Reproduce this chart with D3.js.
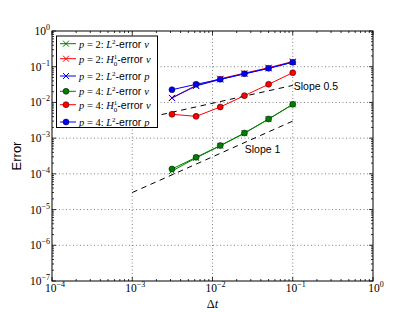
<!DOCTYPE html>
<html>
<head>
<meta charset="utf-8">
<script src="https://cdn.jsdelivr.net/npm/d3@7"></script>
<style>
body { margin: 0; background: #fff; }
.sans { font-family: "Liberation Sans", Arial, sans-serif; }
.serif { font-family: "Liberation Serif", "DejaVu Serif", serif; }
</style>
</head>
<body>
<svg id="chart" width="415" height="312"></svg>
<script>
// time steps
var dt = [0.1, 0.05, 0.025, 0.0125, 0.00625, 0.003125];
// errors, p = 2 (x markers)
var p2L2v = [8.8e-3, 3.4e-3, 1.37e-3, 6.1e-4, 2.8e-4, 1.2e-4];
var p2H1v = [0.14, 0.094, 0.066, 0.046, 0.030, 0.0135];
var p2L2p = [0.135, 0.09, 0.063, 0.044, 0.029, 0.0133];
// errors, p = 4 (circles)
var p4L2v = [8.85e-3, 3.44e-3, 1.39e-3, 6.2e-4, 2.9e-4, 1.37e-4];
var p4H1v = [0.068, 0.0321, 0.0155, 7.45e-3, 4.07e-3, 4.65e-3];
var p4L2p = [0.133, 0.0901, 0.0638, 0.0444, 0.0321, 0.0227];
// reference slopes
var slopeX = [1e-3, 1e-1];
var slopeHalfY = [3.0e-3, 3.0e-2];
var slopeOneY = [3.0e-5, 3.0e-3];
// ticks
var xTickExp = [-4, -3, -2, -1, 0];
var yTickExp = [0, -1, -2, -3, -4, -5, -6, -7];

var series = [
    {name: ['p', '= 2:', 'L', '2', '', 'v'], vals: p2L2v, color: '#008000', marker: 'x'},
    {name: ['p', '= 2:', 'H', '1', '0', 'v'], vals: p2H1v, color: '#ff0000', marker: 'x'},
    {name: ['p', '= 2:', 'L', '2', '', 'p'], vals: p2L2p, color: '#0000ff', marker: 'x'},
    {name: ['p', '= 4:', 'L', '2', '', 'v'], vals: p4L2v, color: '#008000', marker: 'o'},
    {name: ['p', '= 4:', 'H', '1', '0', 'v'], vals: p4H1v, color: '#ff0000', marker: 'o'},
    {name: ['p', '= 4:', 'L', '2', '', 'p'], vals: p4L2p, color: '#0000ff', marker: 'o'}
];

var margin = {left: 52, right: 42, top: 31, bottom: 31};
var W = 415, H = 312;
var svg = d3.select('#chart');
var x = d3.scaleLog().domain([1e-4, 1]).range([margin.left, W - margin.right]);
var y = d3.scaleLog().domain([1e-7, 1]).range([H - margin.bottom, margin.top]);
var x0 = x.range()[0], x1 = x.range()[1], y0 = y.range()[0], y1 = y.range()[1];

// grid
var grid = svg.append('g');
xTickExp.slice(1, -1).forEach(function (e) {
    grid.append('line').attr('x1', x(Math.pow(10, e))).attr('x2', x(Math.pow(10, e)))
        .attr('y1', y0).attr('y2', y1);
});
yTickExp.slice(1, -1).forEach(function (e) {
    grid.append('line').attr('y1', y(Math.pow(10, e))).attr('y2', y(Math.pow(10, e)))
        .attr('x1', x0).attr('x2', x1);
});
grid.selectAll('line').attr('stroke', '#000').attr('stroke-width', 0.5)
    .attr('stroke-dasharray', '1,2.5');

// ticks on all four sides, pointing inward
var minor = [2, 3, 4, 5, 6, 7, 8, 9];
var ticks = svg.append('g').attr('stroke', '#000').attr('stroke-width', 0.8);
xTickExp.forEach(function (e, i) {
    var xs = [{v: Math.pow(10, e), len: 4}];
    if (i < xTickExp.length - 1) minor.forEach(function (m) { xs.push({v: m * Math.pow(10, e), len: 2}); });
    xs.forEach(function (t) {
        ticks.append('line').attr('x1', x(t.v)).attr('x2', x(t.v)).attr('y1', y0).attr('y2', y0 - t.len);
        ticks.append('line').attr('x1', x(t.v)).attr('x2', x(t.v)).attr('y1', y1).attr('y2', y1 + t.len);
    });
});
yTickExp.forEach(function (e, i) {
    var ys = [{v: Math.pow(10, e), len: 4}];
    if (i > 0) minor.forEach(function (m) { ys.push({v: m * Math.pow(10, e), len: 2}); });
    ys.forEach(function (t) {
        ticks.append('line').attr('y1', y(t.v)).attr('y2', y(t.v)).attr('x1', x0).attr('x2', x0 + t.len);
        ticks.append('line').attr('y1', y(t.v)).attr('y2', y(t.v)).attr('x1', x1).attr('x2', x1 - t.len);
    });
});

// tick labels
function powLabel(sel, e) {
    sel.append('tspan').text('10');
    sel.append('tspan').attr('dy', -5).attr('font-size', 8).text(e === 0 ? '0' : '\u2212' + Math.abs(e));
}
xTickExp.forEach(function (e) {
    var t = svg.append('text').attr('class', 'serif').attr('font-size', 11.5)
        .attr('x', x(Math.pow(10, e)) + 3).attr('y', y0 + 10.5).attr('text-anchor', 'middle').attr('fill', '#000');
    powLabel(t, e);
});
yTickExp.forEach(function (e) {
    var t = svg.append('text').attr('class', 'serif').attr('font-size', 11.5)
        .attr('x', x0 - 2).attr('y', y(Math.pow(10, e)) + 4).attr('text-anchor', 'end').attr('fill', '#000');
    powLabel(t, e);
});

// axis labels
svg.append('text').attr('class', 'sans').attr('font-size', 13)
    .attr('transform', 'translate(21,' + ((y0 + y1) / 2) + ') rotate(-90)')
    .attr('text-anchor', 'middle').text('Error');
var xl = svg.append('text').attr('class', 'serif').attr('font-size', 12.5)
    .attr('x', (x0 + x1) / 2).attr('y', 307.5).attr('text-anchor', 'middle');
xl.append('tspan').text('\u0394');
xl.append('tspan').attr('font-style', 'italic').text('t');

// reference slope lines
var line = d3.line().x(function (d) { return x(d[0]); }).y(function (d) { return y(d[1]); });
[slopeHalfY, slopeOneY].forEach(function (ys) {
    svg.append('path').attr('d', line(slopeX.map(function (v, i) { return [v, ys[i]]; })))
        .attr('fill', 'none').attr('stroke', '#000').attr('stroke-width', 1)
        .attr('stroke-dasharray', '5.5,4.5');
});
svg.append('text').attr('class', 'sans').attr('font-size', 10.5)
    .attr('x', x(slopeX[1]) + 1).attr('y', y(slopeHalfY[1]) + 5).text('Slope 0.5');
svg.append('text').attr('class', 'sans').attr('font-size', 10.5)
    .attr('x', x(slopeX[1]) - 48).attr('y', y(slopeOneY[1]) + 32).text('Slope 1');

// data series
function drawMarker(g, m, color, cx, cy) {
    if (m === 'o') {
        g.append('circle').attr('cx', cx).attr('cy', cy).attr('r', 3)
            .attr('fill', color).attr('stroke', '#000').attr('stroke-width', 0.5);
    } else {
        g.append('path').attr('d', 'M' + (cx - 3) + ',' + (cy - 3) + 'L' + (cx + 3) + ',' + (cy + 3) +
            'M' + (cx - 3) + ',' + (cy + 3) + 'L' + (cx + 3) + ',' + (cy - 3))
            .attr('stroke', color).attr('stroke-width', 1).attr('fill', 'none');
    }
}
series.forEach(function (s) {
    var g = svg.append('g');
    var pts = dt.map(function (d, i) { return [d, s.vals[i]]; });
    g.append('path').attr('d', line(pts)).attr('fill', 'none')
        .attr('stroke', s.color).attr('stroke-width', 1);
    pts.forEach(function (p) { drawMarker(g, s.marker, s.color, x(p[0]), y(p[1])); });
});

// legend
var legendRowY = [43.7, 58.7, 76, 91.3, 104.7, 122];
var lg = svg.append('g');
lg.append('rect').attr('x', 56.5).attr('y', 36).attr('width', 101).attr('height', 91.5)
    .attr('fill', '#fff').attr('stroke', '#000').attr('stroke-width', 1);
series.forEach(function (s, i) {
    var ry = legendRowY[i];
    lg.append('line').attr('x1', 60).attr('x2', 76).attr('y1', ry).attr('y2', ry)
        .attr('stroke', s.color).attr('stroke-width', 1);
    drawMarker(lg, s.marker, s.color, 66, ry);
    var t = lg.append('text').attr('x', 79).attr('y', ry + 4).attr('font-size', 10.5).attr('fill', '#000');
    t.append('tspan').attr('class', 'serif').attr('font-style', 'italic').text(s.name[0]);
    t.append('tspan').attr('class', 'serif').text(' ' + s.name[1] + ' ');
    t.append('tspan').attr('class', 'serif').attr('font-style', 'italic').text(s.name[2]);
    if (s.name[4]) {
        t.append('tspan').attr('class', 'serif').attr('font-size', 7).attr('dy', -4).text(s.name[3]);
        t.append('tspan').attr('class', 'serif').attr('font-size', 7).attr('dx', -3.5).attr('dy', 7).text(s.name[4]);
        t.append('tspan').attr('class', 'sans').attr('dy', -3).text('-error ');
    } else {
        t.append('tspan').attr('class', 'serif').attr('font-size', 7).attr('dy', -4).text(s.name[3]);
        t.append('tspan').attr('class', 'sans').attr('dy', 4).text('-error ');
    }
    t.append('tspan').attr('class', 'serif').attr('font-style', 'italic').text(s.name[5]);
});

// frame
svg.append('rect').attr('x', x0).attr('y', y1).attr('width', x1 - x0).attr('height', y0 - y1)
    .attr('fill', 'none').attr('stroke', '#000').attr('stroke-width', 1);
</script>
</body>
</html>
